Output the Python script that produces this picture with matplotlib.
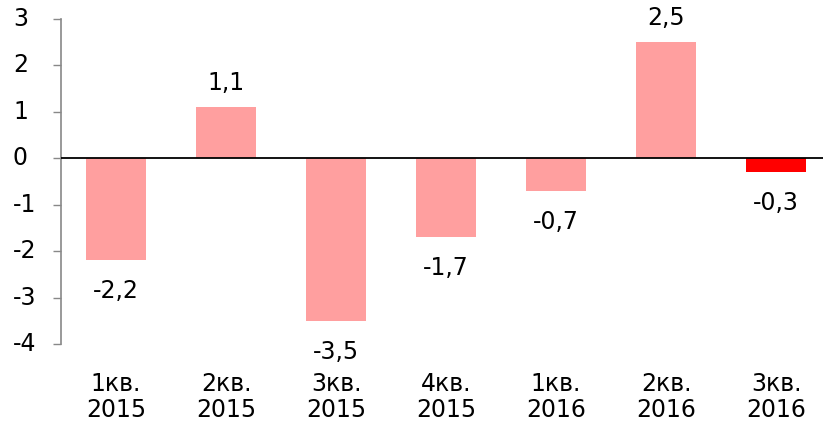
import matplotlib
matplotlib.use("Agg")
import matplotlib.pyplot as plt
from matplotlib.transforms import blended_transform_factory

categories = ["1кв.\n2015", "2кв.\n2015", "3кв.\n2015", "4кв.\n2015", "1кв.\n2016", "2кв.\n2016", "3кв.\n2016"]
values = [-2.2, 1.1, -3.5, -1.7, -0.7, 2.5, -0.3]
labels = ["-2,2", "1,1", "-3,5", "-1,7", "-0,7", "2,5", "-0,3"]
colors = ["#FF9F9F"] * 6 + ["#FF0000"]
yticks = [-4, -3, -2, -1, 0, 1, 2, 3]

plt.rcParams['font.family'] = ['DejaVu Sans']
W, H = 823, 423
fig = plt.figure(figsize=(W / 100, H / 100), dpi=100)
left, right = 61, 61 + 770
top, bottom = 19, 344
ax = fig.add_axes([left / W, 1 - bottom / H, (right - left) / W, (bottom - top) / H])

x = list(range(len(values)))
ax.bar(x, values, width=0.545, color=colors, zorder=2)
ax.axhline(0, color="black", lw=1.3, zorder=3)

for xi, v, lab in zip(x, values, labels):
    off = 24 if v >= 0 else -31
    ax.annotate(lab, (xi, v), xytext=(0, off), textcoords="offset pixels",
                ha="center", va="center", fontsize=17)

ax.set_xlim(-0.5, 6.5)
ax.set_ylim(-4, 3)
ax.set_yticks(yticks)
ax.set_yticklabels([])
trans = blended_transform_factory(fig.transFigure, ax.transData)
for t in yticks:
    fig.text(13 / W, t, str(t), transform=trans, ha="left", va="center", fontsize=17)
ax.set_xticks(x)
ax.set_xticklabels(categories, fontsize=17, linespacing=1.1)
ax.tick_params(axis="x", length=0, pad=20)
ax.tick_params(axis="y", length=6, width=1, color="#888888", direction="out")
for s in ["top", "right", "bottom"]:
    ax.spines[s].set_visible(False)
ax.spines["left"].set_color("#888888")
ax.spines["left"].set_linewidth(1.2)

fig.savefig("out.png", dpi=100)
